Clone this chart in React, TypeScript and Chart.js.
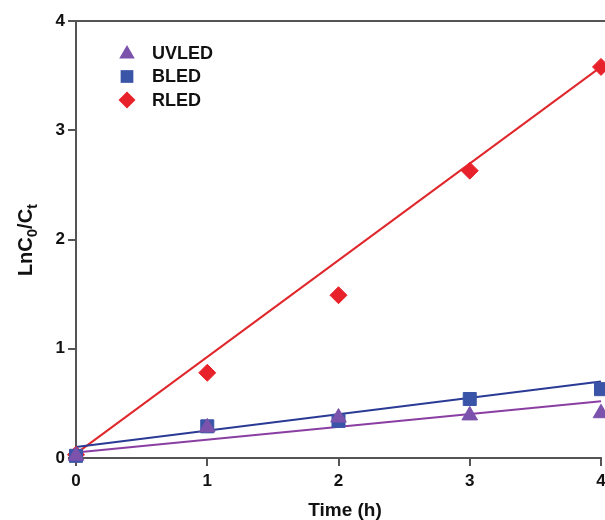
import React, { useEffect, useRef } from "react";
import { Chart, registerables } from "chart.js";

Chart.register(...registerables);

const times = [0, 1, 2, 3, 4];
const uvledValues = [0.02, 0.28, 0.37, 0.39, 0.41];
const bledValues = [0.02, 0.29, 0.34, 0.54, 0.63];
const rledValues = [0.03, 0.78, 1.49, 2.63, 3.58];
const uvledFit = [0.05, 0.52];
const bledFit = [0.1, 0.7];
const rledFit = [0.04, 3.58];
const fitX = [0, 4];
const yTicks = [0, 1, 2, 3, 4];
const xTicks = [0, 1, 2, 3, 4];
const seriesNames = ["UVLED", "BLED", "RLED"];

const FONT = "'Liberation Sans', Arial, sans-serif";
const UV_COLOR = "#7b52ac";
const B_COLOR = "#3a55a8";
const R_COLOR = "#e8222a";

const pts = (xs: number[], ys: number[]) => xs.map((x, i) => ({ x, y: ys[i] }));

export default function App() {
  const ref = useRef<HTMLCanvasElement | null>(null);
  useEffect(() => {
    document.body.style.margin = "0";
    const ctx = ref.current!.getContext("2d")!;
    function drawMarker(c: any, style: string, x: number, y: number, r: number) {
      c.beginPath();
      if (style === "triangle") {
        c.moveTo(x, y - r);
        c.lineTo(x + r * 0.866, y + r * 0.5);
        c.lineTo(x - r * 0.866, y + r * 0.5);
      } else if (style === "rect") {
        const s = r * Math.SQRT1_2;
        c.rect(x - s, y - s, 2 * s, 2 * s);
      } else {
        c.moveTo(x, y - r);
        c.lineTo(x + r, y);
        c.lineTo(x, y + r);
        c.lineTo(x - r, y);
      }
      c.closePath();
      c.fill();
    }
    const decor = {
      id: "decor",
      afterDraw(chart: any) {
        const c = chart.ctx;
        const a = chart.chartArea;
        c.save();
        c.strokeStyle = "#555";
        c.lineWidth = 2;
        c.beginPath();
        c.moveTo(a.left, a.top);
        c.lineTo(chart.width, a.top);
        c.stroke();
        const markers = ["triangle", "rect", "rectRot"];
        const colors = [UV_COLOR, B_COLOR, R_COLOR];
        const radii = [9, 9, 8.5];
        seriesNames.forEach((name, i) => {
          const y = 53 + i * 23.5;
          c.fillStyle = colors[i];
          drawMarker(c, markers[i], 127, y + (i === 0 ? 1 : 0), radii[i]);
          c.fillStyle = "#111";
          c.font = `bold 18px ${FONT}`;
          c.textBaseline = "middle";
          c.textAlign = "left";
          c.fillText(name, 152, y + 1);
        });
        c.save();
        c.translate(32, 240);
        c.rotate(-Math.PI / 2);
        c.fillStyle = "#111";
        c.textBaseline = "alphabetic";
        const big = `bold 20px ${FONT}`;
        const small = `bold 15px ${FONT}`;
        const parts: [string, boolean][] = [["LnC", false], ["0", true], ["/C", false], ["t", true]];
        let total = 0;
        parts.forEach(([t, s]) => { c.font = s ? small : big; total += c.measureText(t).width; });
        let x = -total / 2;
        parts.forEach(([t, s]) => {
          c.font = s ? small : big;
          c.textAlign = "left";
          c.fillText(t, x, s ? 5 : 0);
          x += c.measureText(t).width;
        });
        c.restore();
        c.fillStyle = "#111";
        c.font = `bold 19px ${FONT}`;
        c.textAlign = "center";
        c.textBaseline = "middle";
        c.fillText("Time (h)", 345, 511);
        c.restore();
      },
    };
    const chart = new Chart(ctx, {
      type: "scatter",
      data: {
        datasets: [
          { label: seriesNames[0], data: pts(times, uvledValues), pointStyle: "triangle", pointRadius: 9, backgroundColor: UV_COLOR, borderColor: UV_COLOR, borderWidth: 1 },
          { label: seriesNames[1], data: pts(times, bledValues), pointStyle: "rect", pointRadius: 9.2, backgroundColor: B_COLOR, borderColor: B_COLOR, borderWidth: 1 },
          { label: seriesNames[2], data: pts(times, rledValues), pointStyle: "rectRot", pointRadius: 8.5, backgroundColor: R_COLOR, borderColor: R_COLOR, borderWidth: 1 },
          { type: "line", data: pts(fitX, uvledFit), borderColor: "#8a3ea2", borderWidth: 2, pointRadius: 0, fill: false } as any,
          { type: "line", data: pts(fitX, bledFit), borderColor: "#2a3b96", borderWidth: 2, pointRadius: 0, fill: false } as any,
          { type: "line", data: pts(fitX, rledFit), borderColor: "#e0282c", borderWidth: 2, pointRadius: 0, fill: false } as any,
        ],
      },
      options: {
        animation: false,
        responsive: false,
        maintainAspectRatio: false,
        clip: false as any,
        layout: { autoPadding: false, padding: { top: 21, right: 4, left: 0, bottom: 0 } },
        plugins: { legend: { display: false }, tooltip: { enabled: false } },
        scales: {
          x: {
            type: "linear",
            min: 0,
            max: 4,
            afterBuildTicks: (s: any) => { s.ticks = xTicks.map((v) => ({ value: v })); },
            afterFit: (s: any) => { s.height = 62; s.paddingLeft = 0; s.paddingRight = 0; },
            grid: { drawOnChartArea: false, drawTicks: true, tickLength: 8, color: "#555", lineWidth: 2 },
            border: { color: "#555", width: 2 },
            ticks: { color: "#111", font: { family: FONT, size: 17, weight: "bold" }, padding: 5, maxRotation: 0 },
          },
          y: {
            type: "linear",
            min: 0,
            max: 4,
            afterBuildTicks: (s: any) => { s.ticks = yTicks.map((v) => ({ value: v })); },
            afterFit: (s: any) => { s.width = 76; s.paddingTop = 0; s.paddingBottom = 0; },
            grid: { drawOnChartArea: false, drawTicks: true, tickLength: 8, color: "#555", lineWidth: 2 },
            border: { color: "#555", width: 2 },
            ticks: { color: "#111", font: { family: FONT, size: 17, weight: "bold" }, padding: 3 },
          },
        },
      },
      plugins: [decor],
    } as any);
    return () => chart.destroy();
  }, []);
  return (
    <div style={{ position: "fixed", left: 0, top: 0, width: 605, height: 520, background: "#fff" }}>
      <canvas ref={ref} width={605} height={520} />
    </div>
  );
}
